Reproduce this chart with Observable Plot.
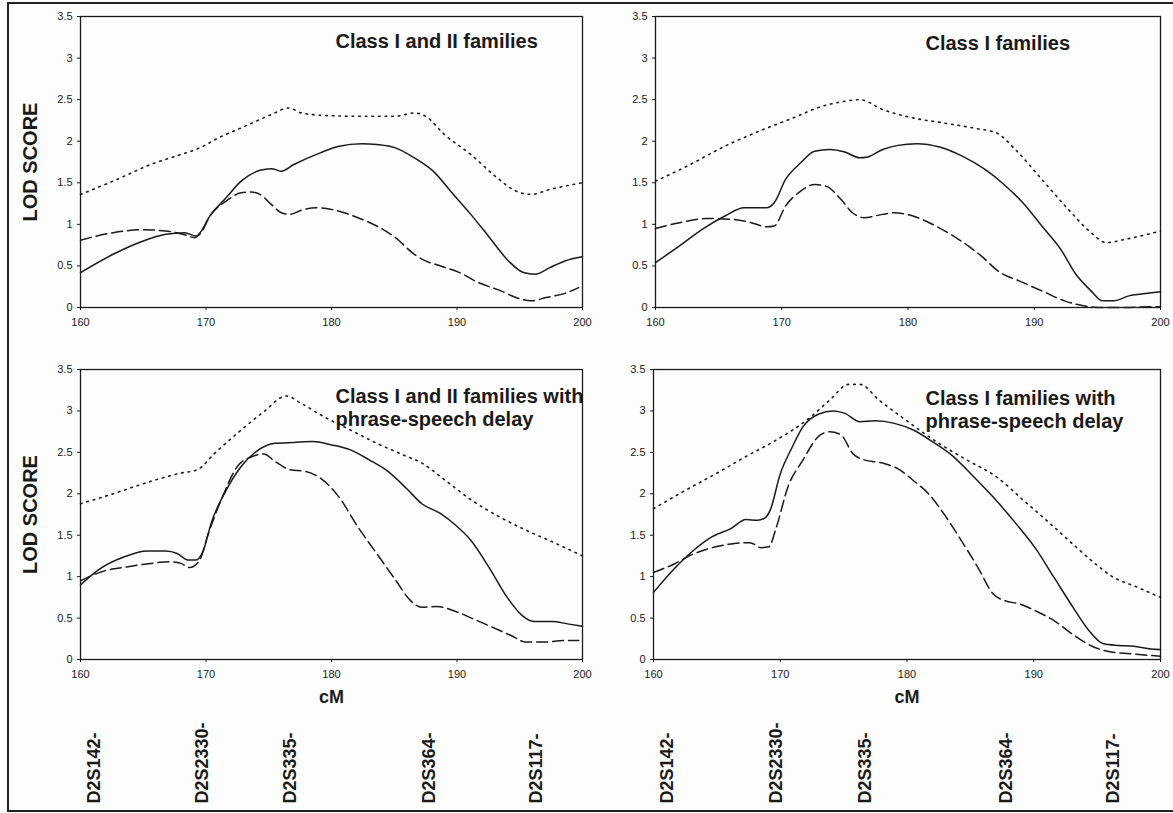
<!DOCTYPE html>
<html>
<head>
<meta charset="utf-8">
<script src="https://cdn.jsdelivr.net/npm/d3@7"></script>
<script src="https://cdn.jsdelivr.net/npm/@observablehq/plot@0.6"></script>
<style>
  html, body { margin: 0; padding: 0; background: #ffffff; }
  #wrap { position: relative; width: 1173px; height: 813px; overflow: hidden; background: #fdfdfd; }
  #border { position: absolute; left: 7px; top: 2px; width: 1180px; height: 806px;
            border-left: 2px solid #222; border-top: 2px solid #222; border-bottom: 2px solid #222; }
  .panel { position: absolute; }
</style>
</head>
<body>
<div id="wrap"><div id="border"></div></div>
<script>
// ---------- data (cM, LOD) ----------
const xTicks = [160, 170, 180, 190, 200];
const yTicks = [0, 0.5, 1, 1.5, 2, 2.5, 3, 3.5];

const titles = [
  "Class I and II families",
  "Class I families",
  "Class I and II families with\nphrase-speech delay",
  "Class I families with\nphrase-speech delay"
];

const markerNames = ["D2S142-", "D2S2330-", "D2S335-", "D2S364-", "D2S117-"];
const markerCM = [161.1, 169.7, 176.7, 187.8, 196.3];

// Panel A: Class I and II families
const a_solid = [[160,0.42],[162.6,0.64],[165,0.80],[166.8,0.88],[168.3,0.90],[169.2,0.86],[170.4,1.12],[171.6,1.32],[172.8,1.52],[174.3,1.65],[175.2,1.67],[176,1.64],[177,1.72],[179.1,1.86],[180.6,1.94],[182.4,1.97],[183.6,1.96],[185.1,1.92],[186.6,1.80],[188.1,1.64],[189.6,1.38],[191.1,1.12],[192.6,0.84],[194.1,0.56],[195.3,0.42],[196.2,0.40],[197.4,0.48],[198.6,0.56],[200,0.61]];
const a_dashed = [[160,0.81],[162.6,0.90],[165,0.935],[166.8,0.92],[168.3,0.875],[169.1,0.84],[169.5,0.88],[170.4,1.12],[171.6,1.28],[172.8,1.38],[173.6,1.39],[174.3,1.36],[175.2,1.24],[176,1.14],[176.7,1.12],[177.6,1.17],[178.8,1.20],[180,1.18],[182.1,1.08],[183.6,0.98],[185.1,0.84],[186.6,0.64],[187.5,0.56],[188.7,0.50],[190.2,0.42],[191.7,0.30],[193.5,0.20],[194.7,0.12],[195.9,0.08],[197.1,0.12],[198.6,0.17],[199.7,0.24]];
const a_dotted = [[160,1.36],[162.6,1.52],[165.6,1.72],[168,1.84],[169.5,1.92],[171,2.04],[173.1,2.18],[175.2,2.32],[176.6,2.40],[177.6,2.34],[179.4,2.31],[182.1,2.30],[185.1,2.30],[186.6,2.34],[187.5,2.30],[189,2.08],[191.1,1.84],[193.2,1.56],[194.7,1.40],[195.9,1.36],[197.4,1.42],[200,1.50]];

// Panel B: Class I families
const b_solid = [[160,0.54],[161.9,0.74],[163.7,0.94],[165.5,1.10],[167,1.20],[168.8,1.20],[169.4,1.26],[170.3,1.54],[171.5,1.74],[172.6,1.88],[173.8,1.90],[175,1.87],[176.2,1.80],[176.8,1.81],[178,1.90],[179.2,1.95],[180.7,1.97],[182.5,1.93],[184.3,1.82],[186.1,1.66],[187.6,1.48],[189.1,1.26],[190.6,0.98],[192.1,0.70],[193.3,0.40],[194.5,0.20],[195.4,0.08],[196.3,0.08],[197.5,0.14],[199,0.17],[200,0.19]];
const b_dashed = [[160,0.95],[161.9,1.02],[164,1.07],[166.1,1.06],[167.6,1.02],[168.8,0.97],[169.4,0.98],[170.3,1.22],[171.5,1.40],[172.6,1.48],[173.5,1.46],[174.7,1.30],[175.6,1.14],[176.5,1.08],[178,1.12],[178.9,1.14],[180.4,1.10],[182.2,0.98],[184,0.82],[185.8,0.62],[187.3,0.42],[188.8,0.32],[190.6,0.20],[192.4,0.08],[193.9,0.02],[195.4,0.00],[197.5,0.00],[199.3,0.01],[200,0.01]];
const b_dotted = [[160,1.52],[162.5,1.70],[165.5,1.94],[168.2,2.12],[170.9,2.28],[173.2,2.42],[175,2.48],[176.2,2.50],[178,2.38],[180.4,2.28],[182.8,2.22],[185.5,2.15],[187,2.10],[188.5,1.90],[190.6,1.54],[192.7,1.18],[194.5,0.90],[195.7,0.78],[197.2,0.82],[200,0.92]];

// Panel C: Class I and II families with phrase-speech delay
const c_solid = [[160,0.90],[161.4,1.08],[163.5,1.24],[165.3,1.31],[166.8,1.31],[167.7,1.28],[168.6,1.20],[169.2,1.20],[169.8,1.32],[170.4,1.64],[171.6,2.04],[172.8,2.33],[174,2.51],[175.5,2.61],[177,2.62],[178.5,2.63],[180,2.59],[181.5,2.53],[183,2.41],[184.5,2.27],[186,2.06],[187.2,1.88],[188.7,1.76],[189.9,1.62],[191.1,1.44],[192.6,1.10],[194,0.75],[195.2,0.53],[196.1,0.46],[197.6,0.46],[198.8,0.43],[200,0.40]];
const c_dashed = [[160,0.95],[161.7,1.06],[163.8,1.12],[165.6,1.16],[167.1,1.18],[168,1.16],[168.7,1.11],[169.5,1.20],[170.1,1.48],[171.3,1.96],[172.5,2.33],[173.7,2.45],[174.6,2.48],[175.5,2.39],[176.7,2.29],[177.9,2.27],[179.1,2.19],[180.6,1.96],[182.1,1.60],[183.6,1.28],[185.1,0.96],[186.3,0.71],[187.2,0.63],[188.4,0.64],[189.9,0.58],[191.3,0.49],[192.8,0.39],[194.3,0.29],[195.5,0.21],[197,0.21],[198.5,0.23],[199.7,0.23]];
const c_dotted = [[160,1.88],[162.6,2.00],[165.6,2.15],[168,2.25],[169.3,2.29],[170.7,2.49],[172.8,2.77],[174.6,2.99],[176.4,3.18],[177.6,3.09],[179.4,2.93],[181.5,2.77],[183.6,2.61],[185.7,2.47],[187.2,2.37],[189,2.17],[191,1.94],[193.4,1.72],[195.5,1.56],[197.6,1.42],[200,1.25]];

// Panel D: Class I families with phrase-speech delay
const d_solid = [[160,0.81],[161.6,1.09],[163.1,1.31],[164.6,1.48],[166.1,1.58],[167.3,1.69],[168.2,1.68],[168.8,1.71],[169.2,1.80],[170,2.24],[170.9,2.55],[171.8,2.81],[173,2.96],[174.2,3.00],[175.1,2.97],[176.3,2.87],[177.5,2.88],[179,2.85],[180.5,2.77],[182,2.63],[183.5,2.47],[185.3,2.20],[186.8,1.96],[188.6,1.64],[190.1,1.35],[191.6,0.99],[193.1,0.63],[194.3,0.36],[195.5,0.19],[196.7,0.17],[197.9,0.16],[199.1,0.13],[200,0.12]];
const d_dashed = [[160,1.05],[161.6,1.15],[163.1,1.27],[164.9,1.36],[166.4,1.40],[167.6,1.41],[168.5,1.35],[169.1,1.36],[169.7,1.60],[170.6,2.08],[171.8,2.41],[173,2.69],[173.9,2.75],[174.8,2.71],[175.7,2.49],[176.6,2.41],[178.1,2.37],[179.3,2.30],[180.5,2.16],[181.7,2.00],[182.9,1.76],[184.1,1.48],[185.6,1.11],[186.8,0.79],[187.7,0.71],[188.9,0.67],[190.1,0.59],[191.6,0.47],[193.1,0.30],[194.6,0.16],[196.1,0.09],[197.6,0.07],[199.1,0.05],[200,0.04]];
const d_dotted = [[160,1.82],[162.5,2.04],[164.9,2.24],[167.3,2.45],[169.7,2.65],[172.1,2.89],[173.9,3.13],[175.4,3.32],[176.3,3.32],[177.8,3.13],[179.9,2.89],[182.3,2.63],[184.7,2.41],[187.1,2.20],[189.2,1.92],[191.3,1.64],[193.1,1.39],[194.9,1.15],[196.1,1.01],[198.2,0.87],[200,0.75]];

// ---------- drawing ----------
const FONT = "'Liberation Sans', Arial, Helvetica, sans-serif";
const INK = "#1a1a1a";

function panel(cfg) {
  const marks = [
    Plot.frame({stroke: INK, strokeWidth: 1.3}),
    Plot.axisY({ticks: yTicks, tickSize: 3, tickPadding: 5, fontSize: 11, label: null,
                tickFormat: d => String(d), stroke: INK}),
    Plot.axisX({ticks: xTicks, tickSize: 3, tickPadding: 8, fontSize: 11, label: null,
                tickFormat: d => String(d), stroke: INK}),
    Plot.line(cfg.dotted, {x: d => d[0], y: d => d[1], stroke: INK, strokeWidth: 1.6,
                           strokeDasharray: "1.6,5", curve: "monotone-x"}),
    Plot.line(cfg.dashed, {x: d => d[0], y: d => d[1], stroke: INK, strokeWidth: 1.5,
                           strokeDasharray: "11,5", curve: "monotone-x"}),
    Plot.line(cfg.solid, {x: d => d[0], y: d => d[1], stroke: INK, strokeWidth: 1.5,
                          curve: "monotone-x"}),
    Plot.text([cfg.title], {frameAnchor: "top-left", text: d => d, dx: cfg.titleDx, dy: cfg.titleDy,
                            textAnchor: "start", lineAnchor: "top", fontSize: 20, fontWeight: "bold",
                            lineHeight: 1.12, fill: INK})
  ];
  if (cfg.lod) {
    marks.push(Plot.text(["LOD SCORE"], {frameAnchor: "left", text: d => d, dx: -50, rotate: -90,
                         textAnchor: "middle", lineAnchor: "middle", fontSize: 20, fontWeight: "bold", fill: INK}));
  }
  if (cfg.bottom) {
    marks.push(Plot.text(["cM"], {x: () => 180, frameAnchor: "bottom", text: d => d, dy: 38,
                         lineAnchor: "middle", fontSize: 18, fontWeight: "bold", fill: INK}));
    marks.push(Plot.text(markerNames, {x: (d, i) => markerCM[i], frameAnchor: "bottom", text: d => d,
                         dy: 144, rotate: -90, textAnchor: "start", lineAnchor: "middle",
                         fontSize: 18, fontWeight: "bold", fill: INK}));
  }
  const svg = Plot.plot({
    width: cfg.width, height: cfg.height,
    marginLeft: cfg.mL, marginRight: cfg.mR, marginTop: cfg.mT, marginBottom: cfg.mB,
    x: {domain: [160, 200]},
    y: {domain: [0, 3.5]},
    style: {fontFamily: FONT, background: "transparent", overflow: "visible", color: INK},
    marks
  });
  svg.classList.add("panel");
  svg.style.left = cfg.left + "px";
  svg.style.top = cfg.top + "px";
  document.getElementById("wrap").appendChild(svg);
}

panel({solid: a_solid, dashed: a_dashed, dotted: a_dotted, title: titles[0],
       left: 0, top: 0, width: 600, height: 345, mL: 80, mR: 18, mT: 16, mB: 38,
       titleDx: 255, titleDy: 16, lod: true, bottom: false});
panel({solid: b_solid, dashed: b_dashed, dotted: b_dotted, title: titles[1],
       left: 600, top: 0, width: 573, height: 345, mL: 55, mR: 13, mT: 16, mB: 38,
       titleDx: 270, titleDy: 18, lod: false, bottom: false});
panel({solid: c_solid, dashed: c_dashed, dotted: c_dotted, title: titles[2],
       left: 0, top: 345, width: 600, height: 468, mL: 80, mR: 18, mT: 24, mB: 154,
       titleDx: 255, titleDy: 18, lod: true, bottom: true});
panel({solid: d_solid, dashed: d_dashed, dotted: d_dotted, title: titles[3],
       left: 600, top: 345, width: 573, height: 468, mL: 53, mR: 13, mT: 24, mB: 154,
       titleDx: 272, titleDy: 20, lod: false, bottom: true});
</script>
</body>
</html>
